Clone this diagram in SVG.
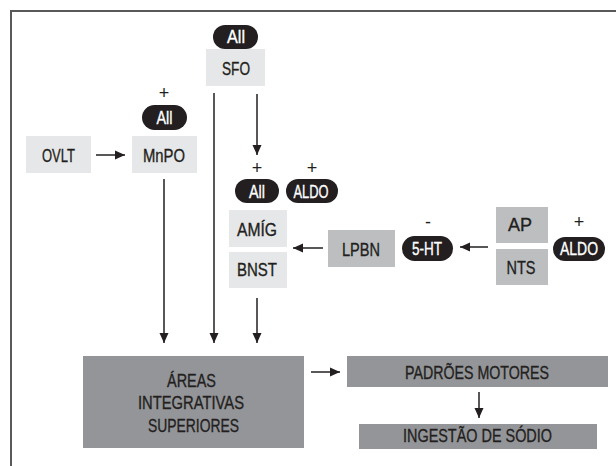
<svg xmlns="http://www.w3.org/2000/svg" width="616" height="466" viewBox="0 0 616 466">
<style>
text{font-family:"Liberation Sans",Arial,sans-serif;font-size:18px;text-anchor:middle;fill:#231f20;stroke:#231f20;stroke-width:0.35}
.l{fill:#e6e7e8}.m{fill:#bcbec0}.d{fill:#939598}.p{fill:#231f20}
text.w{fill:#fff;stroke:#fff}
text.s{font-size:18px;stroke-width:0}
text.b{font-size:19px}
.c line{stroke:#231f20;stroke-width:1.5;fill:none}
</style>
<defs>
<marker id="a" viewBox="0 0 10 10" refX="10" refY="5" markerWidth="10" markerHeight="10" markerUnits="userSpaceOnUse" orient="auto"><path d="M0,0.5L10,5L0,9.5z" fill="#231f20"/></marker>
</defs>
<path d="M11,466V11H616" fill="none" stroke="#58595b" stroke-width="2"/>
<g id="sfo"><rect class="l" x="206" y="49" width="59" height="37"/><text x="236" y="75" textLength="28" lengthAdjust="spacingAndGlyphs">SFO</text></g>
<g id="sfo-all"><rect class="p" x="213" y="25" width="45" height="24" rx="12"/><text class="w" x="236" y="43" textLength="18" lengthAdjust="spacingAndGlyphs">All</text></g>
<g id="ovlt"><rect class="l" x="26" y="136" width="65" height="37"/><text x="58.5" y="161.5" textLength="33" lengthAdjust="spacingAndGlyphs">OVLT</text></g>
<g id="mnpo"><rect class="l" x="132" y="136" width="65" height="37"/><text x="164" y="161.5" textLength="42" lengthAdjust="spacingAndGlyphs">MnPO</text></g>
<g id="mnpo-all"><text class="s" x="164" y="99">+</text><rect class="p" x="142" y="105" width="45" height="25" rx="12.5"/><text class="w" x="164.5" y="124" textLength="16" lengthAdjust="spacingAndGlyphs">All</text></g>
<g id="amig-all"><text class="s" x="257" y="174">+</text><rect class="p" x="235" y="179" width="44" height="24" rx="12"/><text class="w" x="257" y="198" textLength="16" lengthAdjust="spacingAndGlyphs">All</text></g>
<g id="amig-aldo"><text class="s" x="312" y="174">+</text><rect class="p" x="286" y="179" width="52" height="24" rx="12"/><text class="w" x="311" y="198" textLength="35" lengthAdjust="spacingAndGlyphs">ALDO</text></g>
<g id="amig"><rect class="l" x="229" y="210" width="58" height="37"/><text x="257" y="236" textLength="40" lengthAdjust="spacingAndGlyphs">AMÍG</text></g>
<g id="bnst"><rect class="l" x="229" y="252" width="58" height="36"/><text x="257" y="276" textLength="40" lengthAdjust="spacingAndGlyphs">BNST</text></g>
<g id="lpbn"><rect class="m" x="328" y="230" width="67" height="37"/><text x="361" y="256" textLength="38" lengthAdjust="spacingAndGlyphs">LPBN</text></g>
<g id="ht"><text class="s" x="428" y="228">-</text><rect class="p" x="402" y="236" width="51" height="25" rx="12.5"/><text class="w" x="427" y="255" textLength="30" lengthAdjust="spacingAndGlyphs">5-HT</text></g>
<g id="ap"><rect class="m" x="496" y="207" width="52" height="36"/><text x="520" y="231" textLength="24" lengthAdjust="spacingAndGlyphs">AP</text></g>
<g id="nts"><rect class="m" x="496" y="249" width="52" height="36"/><text x="521" y="274" textLength="29" lengthAdjust="spacingAndGlyphs">NTS</text></g>
<g id="aldo"><text class="s" x="579" y="228">+</text><rect class="p" x="553" y="237" width="52" height="24" rx="12"/><text class="w" x="579" y="255" textLength="38" lengthAdjust="spacingAndGlyphs">ALDO</text></g>
<g id="areas"><rect class="d" x="83" y="356" width="221" height="92"/>
<text class="b" x="191.5" y="387" textLength="49" lengthAdjust="spacingAndGlyphs">ÁREAS</text>
<text class="b" x="191" y="409" textLength="106" lengthAdjust="spacingAndGlyphs">INTEGRATIVAS</text>
<text class="b" x="193.5" y="432" textLength="91" lengthAdjust="spacingAndGlyphs">SUPERIORES</text></g>
<g id="padroes"><rect class="d" x="347" y="356" width="261" height="31"/><text class="b" x="477" y="378.5" textLength="144" lengthAdjust="spacingAndGlyphs">PADRÕES MOTORES</text></g>
<g id="ingestao"><rect class="d" x="359" y="424" width="238" height="25"/><text class="b" x="477.5" y="442" textLength="149" lengthAdjust="spacingAndGlyphs">INGESTÃO DE SÓDIO</text></g>
<g class="c" id="connectors">
<line x1="96" y1="155" x2="125" y2="155" marker-end="url(#a)"/>
<line x1="164" y1="179" x2="164" y2="343" marker-end="url(#a)"/>
<line x1="214" y1="93" x2="214" y2="343" marker-end="url(#a)"/>
<line x1="257" y1="94" x2="257" y2="155" marker-end="url(#a)"/>
<line x1="257" y1="298" x2="257" y2="343" marker-end="url(#a)"/>
<line x1="323" y1="248" x2="293" y2="248" marker-end="url(#a)"/>
<line x1="488" y1="247" x2="460" y2="247" marker-end="url(#a)"/>
<line x1="311" y1="372" x2="340" y2="372" marker-end="url(#a)"/>
<line x1="479" y1="392" x2="479" y2="418" marker-end="url(#a)"/>
</g>
</svg>
